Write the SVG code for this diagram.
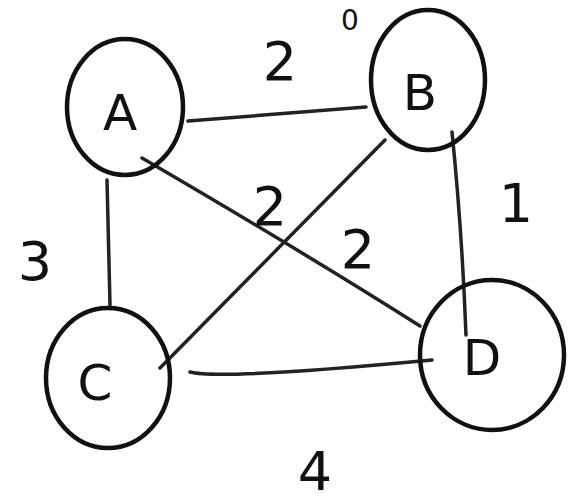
<svg xmlns="http://www.w3.org/2000/svg" width="569" height="502" viewBox="0 0 569 502">
<style>
.node{fill:none;stroke:#111;stroke-width:4.5}
.edge{fill:none;stroke:#222;stroke-width:3.5;stroke-linecap:round}
.lbl{font-family:"DejaVu Sans","Liberation Sans",sans-serif;font-size:54px;fill:#111;text-anchor:middle}
.nl{font-family:"DejaVu Sans","Liberation Sans",sans-serif;font-size:50px;fill:#111;text-anchor:middle}
</style>
<rect width="569" height="502" fill="#fff"/>
<g id="connectors">
<path class="edge" d="M188,121 L366,107"/>
<path class="edge" d="M107,180 L110,305"/>
<path class="edge" d="M142,158 Q300,250 420,326"/>
<path class="edge" d="M385,140 L160,368"/>
<path class="edge" d="M452,132 Q462,230 466,335"/>
<path class="edge" d="M190,372 Q220,380 432,360"/>
</g>
<g id="A"><ellipse class="node" cx="125" cy="107" rx="58" ry="68"/><text class="nl" x="120" y="130">A</text></g>
<g id="B"><ellipse class="node" cx="428" cy="80" rx="57" ry="70"/><text class="nl" x="420" y="110">B</text></g>
<g id="C"><ellipse class="node" cx="108" cy="378" rx="62" ry="70"/><text class="nl" x="95" y="400">C</text></g>
<g id="D"><ellipse class="node" cx="492" cy="355" rx="72" ry="75"/><text class="nl" x="482" y="375">D</text></g>
<g id="labels">
<text class="lbl" x="280" y="80">2</text>
<text class="lbl" x="270" y="225">2</text>
<text class="lbl" x="358" y="268">2</text>
<text class="lbl" x="35" y="280">3</text>
<text class="lbl" x="516" y="222">1</text>
<text class="lbl" x="315" y="490">4</text>
<text class="lbl" x="350" y="30" style="font-size:28px">0</text>
</g>
</svg>
